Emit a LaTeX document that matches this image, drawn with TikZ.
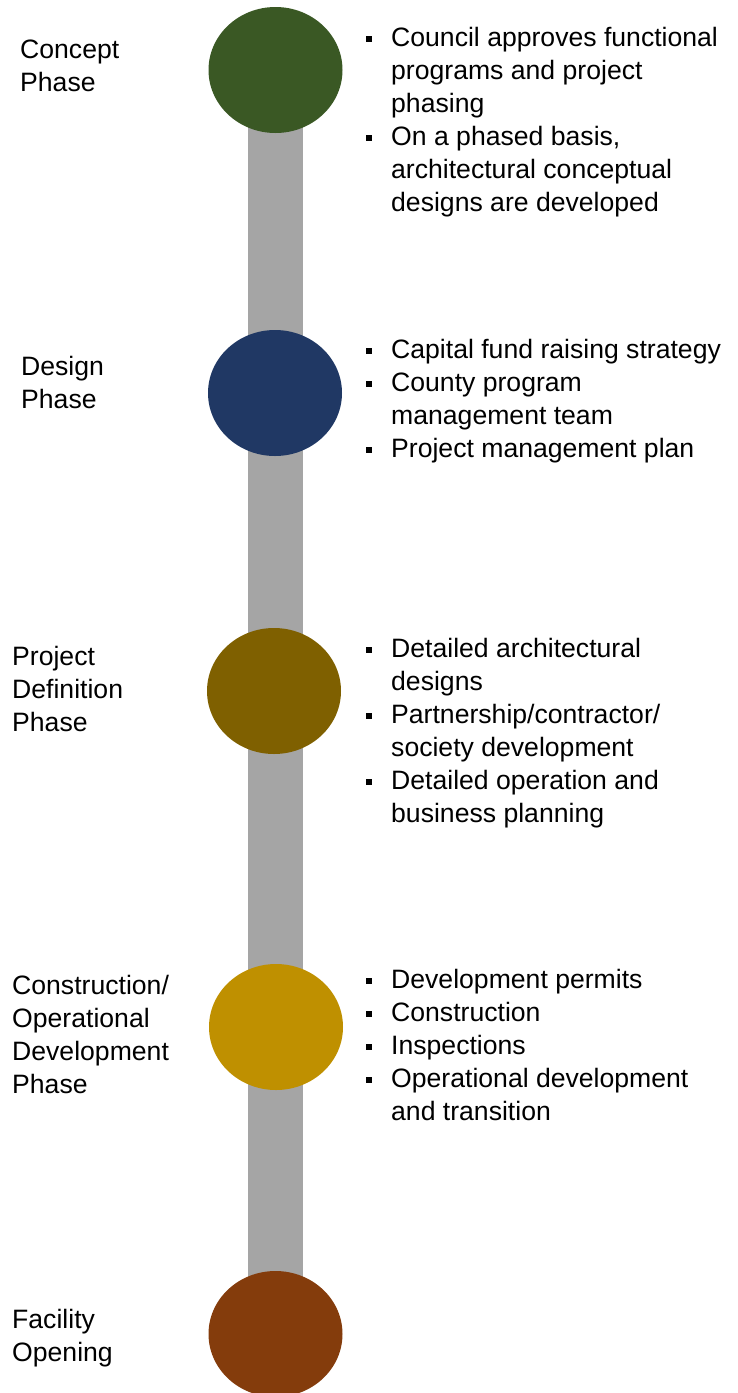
\documentclass[tikz,border=0pt]{standalone}
\usepackage{fontspec}
\setmainfont{Liberation Sans}
\usetikzlibrary{shapes.geometric,backgrounds}
\definecolor{barGray}{HTML}{A5A5A5}
\definecolor{cGreen}{HTML}{3A5824}
\definecolor{cNavy}{HTML}{203864}
\definecolor{cOlive}{HTML}{7F6000}
\definecolor{cGold}{HTML}{BF9000}
\definecolor{cBrown}{HTML}{843C0C}
\newcommand{\bul}{\llap{\rule[4pt]{6pt}{6pt}\hspace{19pt}}}
% multi-line labels are placed by the baseline of their last line
\tikzset{
  phasedot/.style={ellipse, draw=none, minimum width=134pt, minimum height=126pt, inner sep=0pt},
  bar/.style={line width=55pt, barGray},
  label/.style={anchor=base west, align=left, inner sep=0pt, font=\fontsize{26.6}{33}\selectfont},
}
\begin{document}
\begin{tikzpicture}[x=1pt,y=-1pt]
\useasboundingbox (0,0) rectangle (737,1393);
% timeline markers
\node[phasedot, fill=cGreen] (c1) at (275.5,70) {};
\node[phasedot, fill=cNavy]  (c2) at (275,393) {};
\node[phasedot, fill=cOlive] (c3) at (274,691) {};
\node[phasedot, fill=cGold]  (c4) at (276,1027) {};
\node[phasedot, fill=cBrown] (c5) at (275.5,1334) {};
% straight vertical bar behind the markers
\begin{pgfonlayer}{background}
  \draw[bar] (c1.center) -- (c5.center);
\end{pgfonlayer}
% phase names
\node[label] (l1) at (20,91) {Concept\\Phase};
\node[label] (l2) at (21,408) {Design\\Phase};
\node[label] (l3) at (12,731) {Project\\Definition\\Phase};
\node[label] (l4) at (12,1093) {Construction/\\Operational\\Development\\Phase};
\node[label] (l5) at (12,1361) {Facility\\Opening};
% activities
\node[label] (b1) at (391,211) {\bul Council approves functional\\programs and project\\phasing\\\bul On a phased basis,\\architectural conceptual\\designs are developed};
\node[label] (b2) at (391,457) {\bul Capital fund raising strategy\\\bul County program\\management team\\\bul Project management plan};
\node[label] (b3) at (391,822) {\bul Detailed architectural\\designs\\\bul Partnership/contractor/\\society development\\\bul Detailed operation and\\business planning};
\node[label] (b4) at (391,1120) {\bul Development permits\\\bul Construction\\\bul Inspections\\\bul Operational development\\and transition};
\end{tikzpicture}
\end{document}
